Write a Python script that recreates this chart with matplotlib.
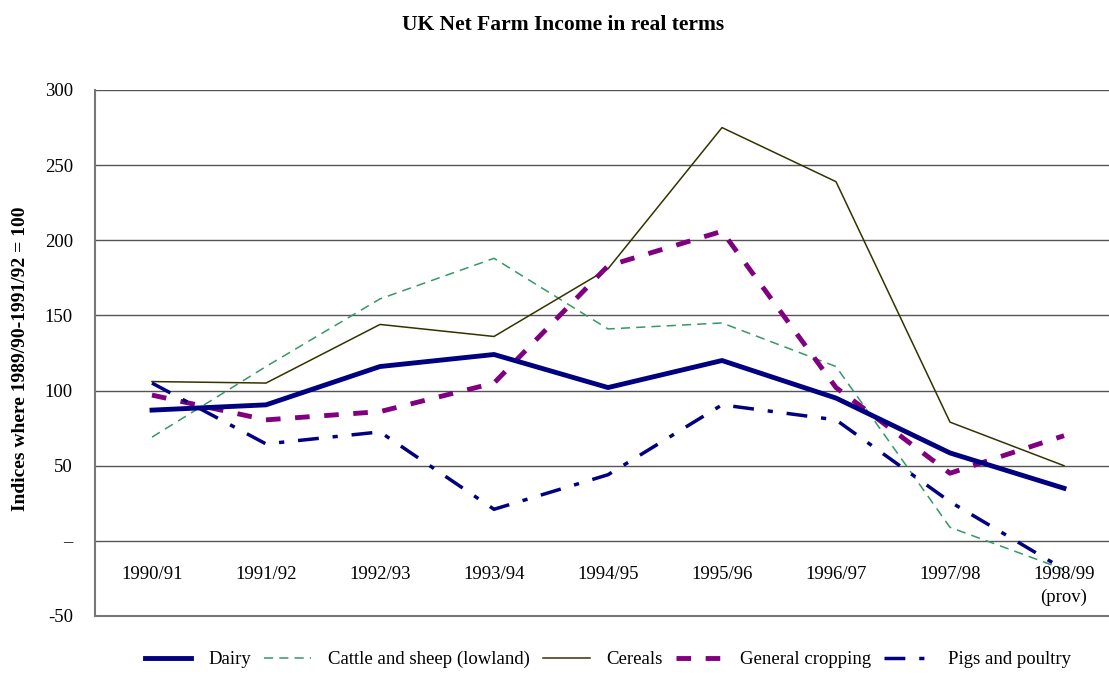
import matplotlib.pyplot as plt
import numpy as np

# data
years = ['1990/91', '1991/92', '1992/93', '1993/94', '1994/95',
         '1995/96', '1996/97', '1997/98', '1998/99\n(prov)']
dairy = [87, 90.5, 116, 124, 102, 120, 95, 58.5, 35]
cattle = [69, 116, 161, 188, 141, 145, 116, 9, -19]
cereals = [106, 105, 144, 136, 181, 275, 239, 79, 50]
general = [97, 80.5, 86, 105, 183, 206, 102, 45, 70]
pigs = [105, 64.5, 72.5, 21, 44, 90.5, 80.5, 26, -19]

plt.rcParams['font.family'] = ['Liberation Serif', 'DejaVu Serif']

fig = plt.figure(figsize=(11.09, 6.77), dpi=100)
ax = fig.add_axes([95 / 1109, 1 - 616 / 677, 1 - 95 / 1109, (616 - 90) / 677])

x = np.arange(len(years))
ax.plot(x, dairy, color='#000080', lw=3.5, label='Dairy', zorder=5)
ax.plot(x, cattle, color='#339966', lw=1.1, dashes=(6, 4), label='Cattle and sheep (lowland)', zorder=3)
ax.plot(x, cereals, color='#333300', lw=1.1, label='Cereals', zorder=3)
ax.plot(x, general, color='#800080', lw=3.5, dashes=(3, 3), label='General cropping', zorder=4)
ax.plot(x, pigs, color='#000080', lw=2.5, dashes=(6, 4, 1.5, 4), label='Pigs and poultry', zorder=4)

ax.set_xlim(-0.5, 8.5 - 12 / 114)
ax.set_ylim(-50, 300)
ax.set_yticks(np.arange(-50, 301, 50))
ax.set_yticklabels(['-50', '\u2013', '50', '100', '150', '200', '250', '300'], fontsize=13.5)
ax.tick_params(axis='y', length=0, pad=16)
ax.set_xticks([])
for yv in range(0, 301, 50):
    ax.axhline(yv, color='#555555', lw=1, zorder=1)
for s in ['top', 'right']:
    ax.spines[s].set_visible(False)
ax.spines['left'].set_color('#777777')
ax.spines['bottom'].set_color('#777777')
ax.spines['left'].set_linewidth(1.5)
ax.spines['bottom'].set_linewidth(1.5)

for i, lab in enumerate(years):
    ax.text(i, -17, lab, ha='center', va='top', fontsize=13.5, linespacing=1.4)

ax.set_ylabel('Indices where 1989/90-1991/92 = 100', fontsize=14, fontweight='bold')
ax.yaxis.set_label_coords(-0.065, 0.49)
fig.text(563 / 1109, 1 - 25 / 677, 'UK Net Farm Income in real terms', ha='center', va='center',
         fontsize=15.5, fontweight='bold')

fig.legend(loc='lower center', bbox_to_anchor=(0.548, -0.012), ncol=5, frameon=False,
           fontsize=13.5, handlelength=2.5, columnspacing=0.7, handletextpad=0.9)

fig.savefig('out.png', dpi=100)
